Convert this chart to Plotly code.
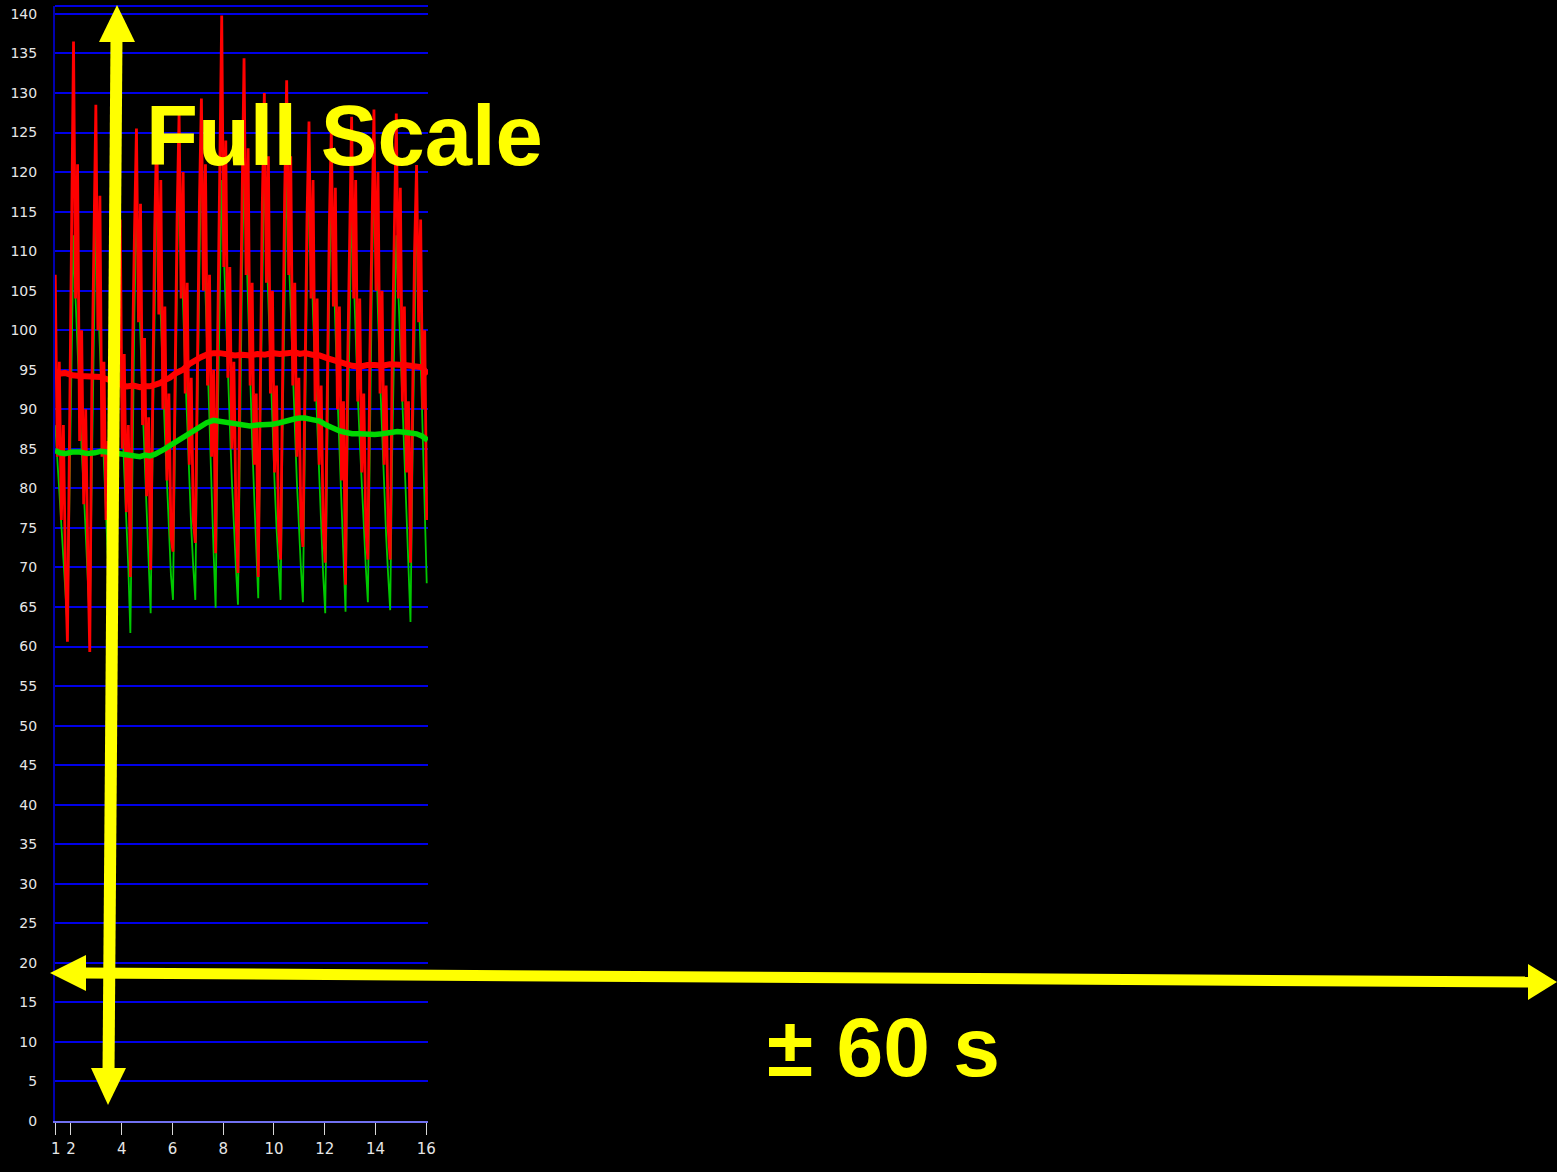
import numpy as np
import plotly.graph_objects as go

# ---- raw pressure traces, one sample every DT seconds starting at T_START ----
T_START = 1.38
DT = 0.08

red_raw = [
    107, 84, 96, 76, 88, 70,
    60.6, 88, 115, 136.5, 104, 121, 86, 100, 78, 90, 72,
    59.3, 92, 113, 128.5, 100, 117, 84, 96, 76, 86,
    66, 95, 110, 124, 98, 114, 85, 97, 77, 88,
    68.8, 96, 112, 125.5, 101, 116, 88, 99, 79, 89,
    69.7, 94, 113, 126, 102, 119, 90, 103, 81, 92, 74,
    72, 97, 114, 127.5, 104, 120, 92, 106, 83, 94, 76,
    73.1, 98, 116, 129.3, 105, 121, 93, 107, 84, 95,
    71.8, 99, 118, 139.8, 108, 124, 94, 108, 85, 96, 77,
    69.3, 97, 117, 134.4, 107, 123, 93, 106, 83, 92,
    68.8, 96, 116, 130, 106, 122, 92, 105, 82, 93, 75,
    71, 98, 117, 131.6, 107, 122, 93, 106, 84, 94, 76,
    72.6, 97, 114, 126.4, 104, 119, 91, 104, 83, 93, 75,
    70.6, 96, 113, 125.5, 103, 118, 90, 103, 81, 91,
    67.8, 95, 114, 127, 104, 119, 91, 104, 82, 92, 75,
    71, 97, 115, 127.9, 105, 120, 92, 105, 83, 93, 75,
    71, 96, 114, 127.4, 104, 118, 91, 103, 82, 91,
    70.6, 94, 110, 120.9, 101, 114, 90, 100, 76,
]

green_raw = [
    88, 84, 80, 75, 71, 67,
    62.5, 80, 98, 112, 104, 97, 91, 85, 80, 74, 69,
    63, 82, 101, 115, 105, 97, 90, 83, 77, 70,
    64, 84, 100, 114, 104, 96, 89, 82, 76, 70,
    61.7, 85, 102, 115, 106, 98, 91, 84, 77, 70,
    64.2, 86, 104, 119, 109, 101, 94, 87, 81, 75, 69,
    65.9, 88, 107, 124, 112, 103, 95, 88, 81, 75, 70,
    65.9, 89, 108, 125, 113, 104, 96, 88, 80, 72,
    64.9, 88, 106, 119, 110, 102, 95, 88, 81, 75, 70,
    65.3, 89, 107, 120.5, 111, 102, 94, 86, 79, 72,
    66.1, 89, 108, 121, 111, 103, 95, 88, 81, 75, 70,
    65.9, 88, 106, 119.6, 110, 102, 95, 88, 81, 75, 70,
    65.6, 89, 107, 120.5, 110, 102, 95, 88, 81, 75, 69,
    64.2, 87, 105, 117.7, 108, 100, 92, 85, 78, 71,
    64.4, 86, 103, 115, 107, 99, 92, 86, 80, 75, 70,
    65.6, 88, 106, 120, 110, 102, 94, 87, 80, 74, 69,
    64.6, 85, 100, 112, 105, 98, 91, 84, 77, 71,
    63.1, 84, 101, 115, 106, 97, 88, 78, 68,
]

# ---- running means ----
mean_t = [1.37, 1.56, 1.76, 2.05, 2.35, 2.64, 2.94, 3.18, 3.42, 3.64,
          3.85, 4.02, 4.20, 4.46, 4.72, 4.92, 5.11, 5.30, 5.50, 5.70,
          5.90, 6.15, 6.41, 6.65, 6.88, 7.12, 7.35, 7.61, 7.87, 8.17,
          8.46, 8.76, 9.05, 9.35, 9.64, 9.94, 10.23, 10.53, 10.83, 11.02,
          11.22, 11.51, 11.80, 12.06, 12.32, 12.56, 12.79, 13.08, 13.38, 13.68,
          13.97, 14.27, 14.56, 14.86, 15.15, 15.38, 15.62, 15.84, 16.06]
red_mean = [94.8, 94.5, 94.6, 94.3, 94.2, 94.1, 94.0, 94.1, 93.8, 93.6,
            93.4, 93.0, 92.9, 93.0, 92.8, 92.9, 92.9, 93.1, 93.3, 93.7,
            94.0, 94.6, 95.0, 95.7, 96.2, 96.6, 96.9, 97.1, 97.1, 96.9,
            96.8, 96.9, 96.8, 97.0, 96.9, 97.1, 97.0, 97.1, 97.2, 97.0,
            97.1, 96.9, 96.8, 96.5, 96.2, 95.9, 95.8, 95.5, 95.4, 95.6,
            95.6, 95.5, 95.7, 95.7, 95.6, 95.5, 95.4, 95.3, 94.4]
green_mean = [84.8, 84.5, 84.4, 84.6, 84.6, 84.4, 84.5, 84.7, 84.6, 84.5,
              84.4, 84.3, 84.2, 84.1, 84.0, 84.2, 84.1, 84.3, 84.6, 85.0,
              85.4, 85.9, 86.4, 86.9, 87.4, 88.0, 88.3, 88.6, 88.5, 88.4,
              88.2, 88.0, 87.9, 88.0, 88.0, 88.1, 88.3, 88.6, 88.8, 88.9,
              88.9, 88.7, 88.5, 88.0, 87.6, 87.3, 87.1, 86.9, 86.9, 86.8,
              86.8, 86.9, 87.0, 87.2, 87.1, 87.0, 86.9, 86.6, 86.1]

# ---- axes ----
y_tickvals = list(range(0, 145, 5))
x_tickvals = [1.4, 2, 4, 6, 8, 10, 12, 14, 16]
x_ticktext = ["1", "2", "4", "6", "8", "10", "12", "14", "16"]
X_RANGE = [1.37, 16.07]
Y_RANGE = [0, 141]

t_raw = T_START + DT * np.arange(len(red_raw))

# figure geometry (pixels)
W, H = 1557, 1172
ML, MR, MT, MB = 55, W - 428, 6, H - 1121
PW, PH = W - ML - MR, H - MT - MB


def to_paper(px, py):
    """Figure pixel position -> paper coordinates."""
    return (px - ML) / PW, (H - MB - py) / PH


fig = go.Figure()
fig.add_trace(go.Scatter(x=t_raw, y=green_raw, mode="lines",
                         line=dict(color="#00c800", width=1.8), hoverinfo="skip"))
fig.add_trace(go.Scatter(x=t_raw, y=red_raw, mode="lines",
                         line=dict(color="#ff0000", width=2.8), hoverinfo="skip"))
fig.add_trace(go.Scatter(x=mean_t, y=green_mean, mode="lines",
                         line=dict(color="#00d800", width=5.5), hoverinfo="skip"))
fig.add_trace(go.Scatter(x=mean_t, y=red_mean, mode="lines",
                         line=dict(color="#ff0000", width=6), hoverinfo="skip"))

YELLOW = "#ffff00"
shapes = []


def poly(points):
    pts = [to_paper(*p) for p in points]
    path = "M " + " L ".join(f"{x:.5f},{y:.5f}" for x, y in pts) + " Z"
    return dict(type="path", path=path, xref="paper", yref="paper",
                fillcolor=YELLOW, line=dict(color=YELLOW, width=0), layer="above")


def bar(p0, p1, width):
    (x0, y0), (x1, y1) = to_paper(*p0), to_paper(*p1)
    return dict(type="line", x0=x0, y0=y0, x1=x1, y1=y1, xref="paper", yref="paper",
                line=dict(color=YELLOW, width=width), layer="above")


# top border of the plot frame
shapes.append(dict(type="line", xref="paper", yref="paper", x0=0, x1=1, y0=1, y1=1,
                   line=dict(color="#0000e0", width=2), layer="above"))

# vertical double arrow (full scale)
shapes.append(bar((116.5, 38), (108.5, 1072), 12))
shapes.append(poly([(117, 5), (99, 42), (135, 42)]))
shapes.append(poly([(108, 1105), (91, 1068), (126, 1068)]))

# horizontal double arrow (time window)
shapes.append(bar((84, 973), (1530, 982), 11))
shapes.append(poly([(50, 973), (86, 955), (86, 991)]))
shapes.append(poly([(1557, 982), (1528, 964), (1528, 1000)]))

fx, fy = to_paper(344, 135)
sx, sy = to_paper(883, 1047)
annotations = [
    dict(text="<b>Full Scale</b>", x=fx, y=fy, xref="paper", yref="paper",
         showarrow=False, xanchor="center", yanchor="middle",
         font=dict(family="Liberation Sans, Arial", size=85, color=YELLOW)),
    dict(text="<b>± 60 s</b>", x=sx, y=sy, xref="paper", yref="paper",
         showarrow=False, xanchor="center", yanchor="middle",
         font=dict(family="Liberation Sans, Arial", size=84, color=YELLOW)),
]

fig.update_layout(
    width=W, height=H,
    margin=dict(l=ML, r=MR, t=MT, b=MB, pad=0, autoexpand=False),
    paper_bgcolor="#000000", plot_bgcolor="#000000",
    showlegend=False,
    shapes=shapes, annotations=annotations,
    xaxis=dict(range=X_RANGE, tickvals=x_tickvals, ticktext=x_ticktext,
               showgrid=False, zeroline=False, automargin=False,
               showline=True, linecolor="#7070f0", linewidth=2,
               ticks="outside", ticklen=12, tickwidth=1, tickcolor="#d8d8d8",
               ticklabelstandoff=1,
               tickfont=dict(family="DejaVu Sans", size=15, color="#e6e6e6"),
               fixedrange=True),
    yaxis=dict(range=Y_RANGE, tickvals=y_tickvals,
               showgrid=True, gridcolor="#0000e8", gridwidth=2,
               zeroline=False, automargin=False,
               showline=True, linecolor="#0000b0", linewidth=2,
               ticks="", ticklabelstandoff=13,
               tickfont=dict(family="DejaVu Sans", size=14, color="#e6e6e6"),
               fixedrange=True),
)

fig.write_html("out.html")
